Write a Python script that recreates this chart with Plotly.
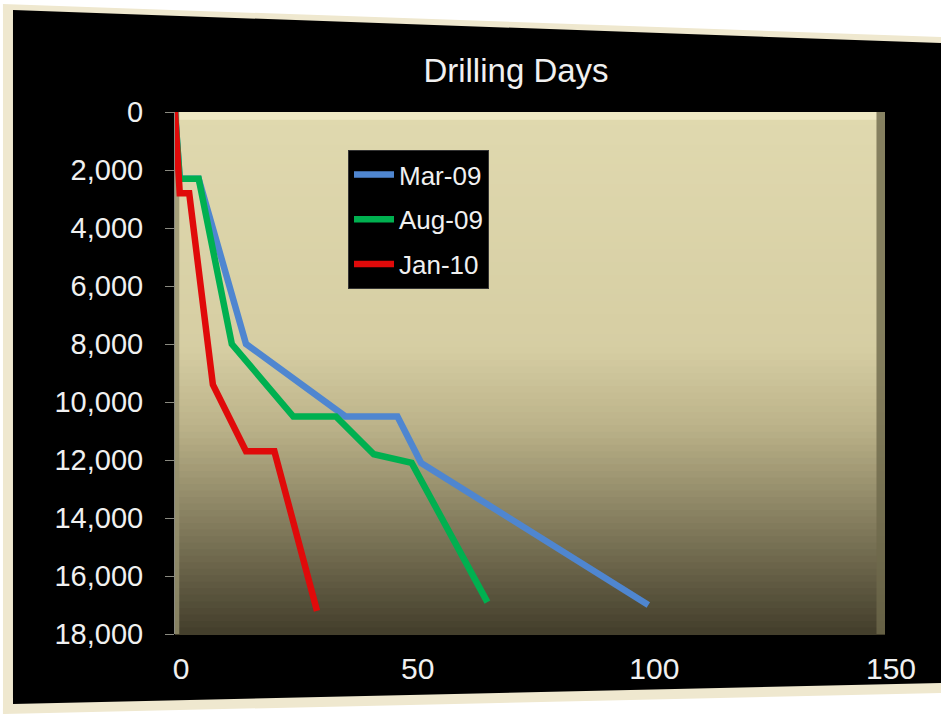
import plotly.graph_objects as go

# Drilling progress: days on well vs depth (ft)
mar09_days = [0, 1, 5, 15, 36, 47, 52, 100]
mar09_depth = [0, 2300, 2300, 8000, 10500, 10500, 12100, 17000]

aug09_days = [0, 1, 5, 12, 25, 34, 42, 50, 66]
aug09_depth = [0, 2300, 2300, 8000, 10500, 10500, 11800, 12100, 16900]

jan10_days = [0, 1, 3, 8, 15, 21, 30]
jan10_depth = [0, 2800, 2800, 9400, 11700, 11700, 17200]

series_names = ["Mar-09", "Aug-09", "Jan-10"]
series_colors = ["#4f86d0", "#00b050", "#e00a0a"]

x_ticks = [0, 50, 100, 150]
y_ticks = list(range(0, 18001, 2000))

W, H = 941, 714
ML, MR, MT, MB = 175, 56, 112, 80
PW, PH = W - ML - MR, H - MT - MB


def px(xp):
    return (xp - ML) / PW


def py(yp):
    return (H - MB - yp) / PH


def quad(pts):
    return "M " + " L ".join(f"{px(a):.4f},{py(b):.4f}" for a, b in pts) + " Z"


fig = go.Figure()
for name, color, xs, ys in zip(
    series_names,
    series_colors,
    [mar09_days, aug09_days, jan10_days],
    [mar09_depth, aug09_depth, jan10_depth],
):
    fig.add_trace(
        go.Scatter(
            x=xs, y=ys, name=name, mode="lines",
            line=dict(color=color, width=6.5),
            legendgroup=name,
        )
    )

shapes = []
# slide frame: cream edge with black panel
shapes.append(dict(type="path", xref="paper", yref="paper", layer="below",
                   path=quad([(3, 4), (941, 37), (941, 693), (3, 714)]),
                   fillcolor="#efe8cf", line=dict(width=0)))
shapes.append(dict(type="path", xref="paper", yref="paper", layer="below",
                   path=quad([(13, 10), (941, 43), (941, 683), (13, 704)]),
                   fillcolor="#000000", line=dict(width=0)))

# plot area gradient: cream fading to dark olive toward the bottom
stops = [(0.0, (224, 217, 175)), (0.45, (214, 206, 163)), (0.6, (188, 179, 138)),
         (0.8, (128, 121, 90)), (1.0, (66, 61, 43))]


def grad(t):
    for (t0, c0), (t1, c1) in zip(stops[:-1], stops[1:]):
        if t <= t1:
            f = (t - t0) / (t1 - t0)
            return "rgb(%d,%d,%d)" % tuple(round(a + (b - a) * f) for a, b in zip(c0, c1))
    return "rgb(%d,%d,%d)" % stops[-1][1]


N = 80
for i in range(N):
    t = (i + 0.5) / N
    shapes.append(dict(type="rect", xref="paper", yref="paper", layer="below",
                       x0=0, x1=1, y0=1 - (i + 1) / N - 0.002, y1=1 - i / N,
                       fillcolor=grad(t), line=dict(width=0)))
# bevel highlights on the panel edges
shapes.append(dict(type="rect", xref="paper", yref="paper", layer="below",
                   x0=0, x1=1, y0=0.985, y1=1, fillcolor="#eee8c2", line=dict(width=0)))
shapes.append(dict(type="rect", xref="paper", yref="paper", layer="below",
                   x0=0.988, x1=1, y0=0, y1=1, fillcolor="rgba(110,105,75,0.8)", line=dict(width=0)))
shapes.append(dict(type="rect", xref="paper", yref="paper", layer="below",
                   x0=0, x1=0.006, y0=0, y1=1, fillcolor="rgba(150,145,110,0.8)", line=dict(width=0)))

fig.update_layout(
    width=W, height=H,
    margin=dict(l=ML, r=MR, t=MT, b=MB),
    paper_bgcolor="#ffffff",
    plot_bgcolor="rgba(0,0,0,0)",
    shapes=shapes,
    title=dict(text="Drilling Days", x=516 / W, xanchor="center", y=1 - 70 / H, yanchor="middle",
               font=dict(family="Liberation Sans", size=33, color="#f0f0f0")),
    font=dict(family="Liberation Sans", color="#eeeeee"),
    showlegend=True,
    legend=dict(x=px(348), y=py(150), xanchor="left", yanchor="top",
                bgcolor="#000000", bordercolor="#333333", borderwidth=1,
                font=dict(size=26, color="#f0f0f0"), tracegroupgap=8,
                itemwidth=40),
    xaxis=dict(range=[0, 150], tickvals=x_ticks, showgrid=False, zeroline=False,
               showline=False, ticks="", tickfont=dict(size=30, color="#f0f0f0"),
               ticklabelstandoff=14, ticklabelshift=6),
    yaxis=dict(range=[18000, 0], tickvals=y_ticks, tickformat=",", showgrid=False,
               zeroline=False, showline=True, linecolor="#8a8a80", linewidth=1,
               ticks="outside", ticklen=9, tickcolor="#8a8a80",
               tickfont=dict(size=29, color="#f0f0f0"), ticklabelstandoff=16),
)

fig.write_html("out.html")
